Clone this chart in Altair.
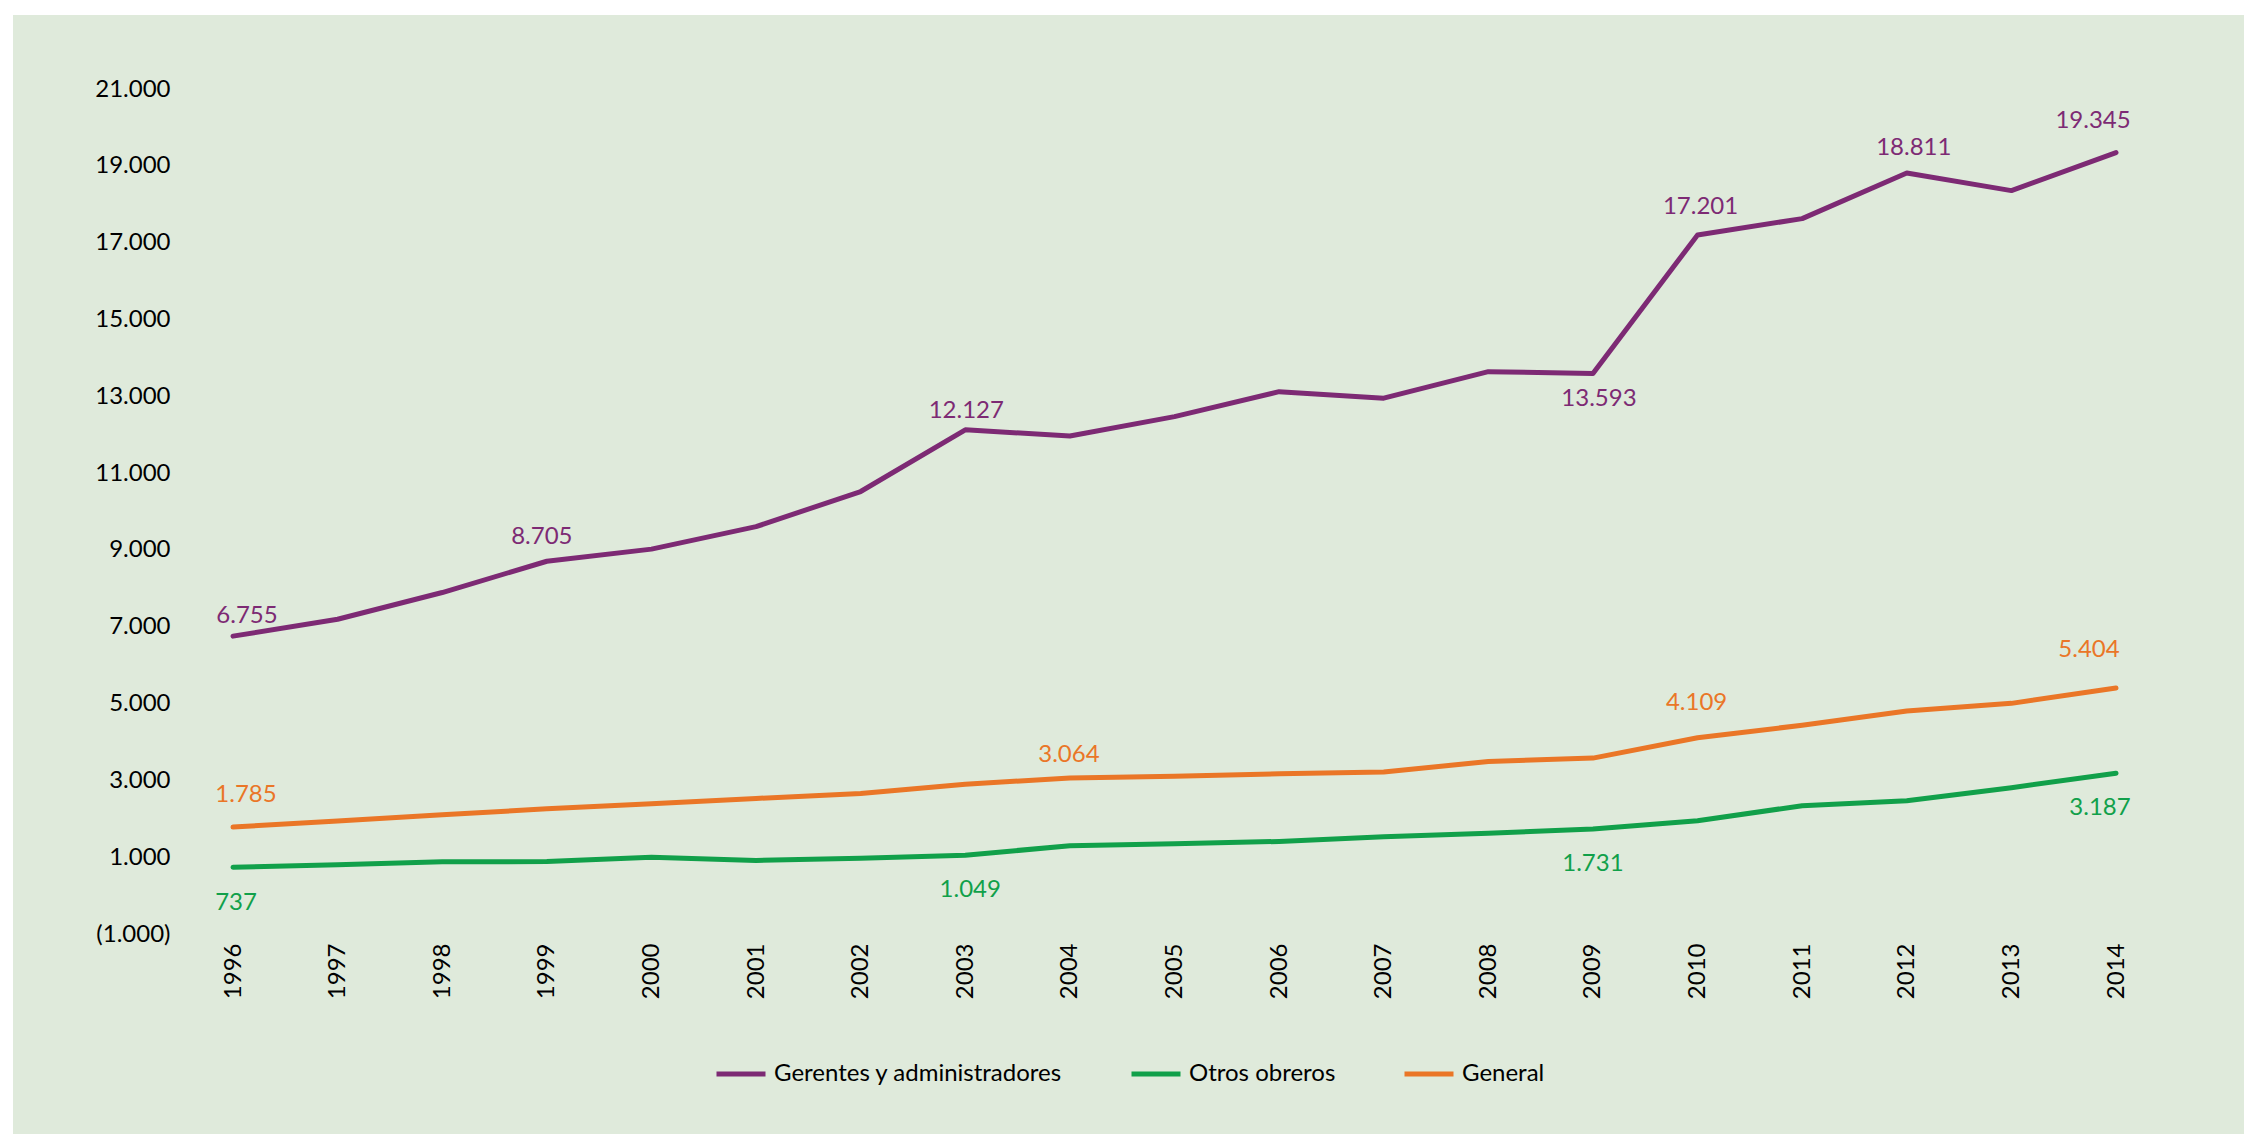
import altair as alt
import pandas as pd

# ---------------- data ----------------
years = [1996, 1997, 1998, 1999, 2000, 2001, 2002, 2003, 2004, 2005,
         2006, 2007, 2008, 2009, 2010, 2011, 2012, 2013, 2014]
gerentes = [6755, 7195, 7890, 8705, 9020, 9605, 10520, 12127, 11965, 12470,
            13120, 12950, 13640, 13593, 17201, 17625, 18811, 18355, 19345]
otros = [737, 805, 880, 885, 1000, 915, 975, 1049, 1300, 1350,
         1410, 1530, 1625, 1731, 1950, 2340, 2470, 2810, 3187]
general = [1785, 1940, 2105, 2260, 2390, 2530, 2660, 2900, 3064, 3105,
           3170, 3220, 3490, 3580, 4109, 4435, 4805, 5005, 5404]
series_names = ["Gerentes y administradores", "Otros obreros", "General"]
series_colors = ["#7d2a74", "#11a04a", "#ea7627"]
y_ticks = [-1000, 1000, 3000, 5000, 7000, 9000, 11000, 13000, 15000, 17000, 19000, 21000]

labeled_years = {
    "Gerentes y administradores": [1996, 1999, 2003, 2009, 2010, 2012, 2014],
    "Otros obreros": [1996, 2003, 2009, 2014],
    "General": [1996, 2004, 2010, 2014],
}

rows = []
for name, vals in zip(series_names, [gerentes, otros, general]):
    for yr, v in zip(years, vals):
        rows.append({"year": yr, "value": v, "series": name,
                     "label": f"{v:,}".replace(",", ".")})
df = pd.DataFrame(rows)

# ---------------- styling ----------------
FONT = "Lato"
BG = "#dfeadb"
W, H = 1883, 845
PAD = {"left": 225, "top": 81, "right": 128, "bottom": 200}

# label nudges (dx, dy) in pixels, per (series, year)
label_offsets = {
    ("Gerentes y administradores", 1996): (14, -20),
    ("Gerentes y administradores", 1999): (-5, -24),
    ("Gerentes y administradores", 2003): (1, -19),
    ("Gerentes y administradores", 2009): (6, 26),
    ("Gerentes y administradores", 2010): (3, -28),
    ("Gerentes y administradores", 2012): (7, -25),
    ("Gerentes y administradores", 2014): (-23, -32),
    ("Otros obreros", 1996): (3, 36),
    ("Otros obreros", 2003): (5, 35),
    ("Otros obreros", 2009): (0, 35),
    ("Otros obreros", 2014): (-16, 35),
    ("General", 1996): (13, -32),
    ("General", 2004): (-1, -23),
    ("General", 2010): (-1, -35),
    ("General", 2014): (-27, -38),
}

color_scale = alt.Scale(domain=series_names, range=series_colors)

x_enc = alt.X("year:Q",
              scale=alt.Scale(domain=[1996, 2014], nice=False, zero=False),
              axis=alt.Axis(values=years, format="d", labelAngle=270,
                            labelFontSize=24, labelFont=FONT, labelColor="black",
                            labelPadding=9, domain=False, ticks=False, grid=False,
                            labelFlush=False, labelOverlap=False, title=None,
                            zindex=2))
y_label_expr = ("datum.value < 0 ? '(' + replace(format(-datum.value, ','), ',', '.') + ')' : "
                "replace(format(datum.value, ','), ',', '.') + '\u00a0'")
y_enc = alt.Y("value:Q",
              scale=alt.Scale(domain=[-1000, 21000], nice=False, zero=False),
              axis=alt.Axis(values=y_ticks, labelExpr=y_label_expr,
                            labelFontSize=24, labelFont=FONT, labelColor="black",
                            labelPadding=63, domain=False, ticks=False, grid=False,
                            labelFlush=False, labelOverlap=False, title=None,
                            zindex=2))

bg = alt.Chart(pd.DataFrame({"a": [0]})).mark_rect(color=BG).encode(
    x=alt.value(-PAD["left"] + 5), x2=alt.value(W + PAD["right"]),
    y=alt.value(-PAD["top"] + 7), y2=alt.value(H + PAD["bottom"]),
)

base = alt.Chart(df)

lines = base.mark_line(strokeWidth=5, strokeCap="round", strokeJoin="round").encode(
    x=x_enc, y=y_enc,
    color=alt.Color("series:N", scale=color_scale, sort=series_names,
                    legend=alt.Legend(orient="none", legendX=481, legendY=958,
                                      direction="horizontal", title=None,
                                      symbolType="stroke", symbolSize=2401,
                                      symbolStrokeWidth=5, labelFontSize=24,
                                      labelFont=FONT, labelColor="black",
                                      columnPadding=58, labelOffset=6, padding=0,
                                      labelLimit=0, zindex=2)),
)

label_layers = []
for name in series_names:
    for yr in labeled_years[name]:
        dx, dy = label_offsets[(name, yr)]
        label_layers.append(
            base.transform_filter(
                f"datum.series == '{name}' && datum.year == {yr}"
            ).mark_text(fontSize=24, font=FONT, baseline="middle", align="center",
                        dx=dx, dy=dy).encode(
                x="year:Q", y="value:Q", text="label:N",
                color=alt.Color("series:N", scale=color_scale, legend=None),
            )
        )

chart = alt.layer(bg, lines, *label_layers).properties(
    width=W, height=H, padding=PAD,
    autosize=alt.AutoSizeParams(type="none"),
    background="white",
).configure_view(stroke=None)

chart.save("out.html", embed_options={"renderer": "svg", "actions": False})
